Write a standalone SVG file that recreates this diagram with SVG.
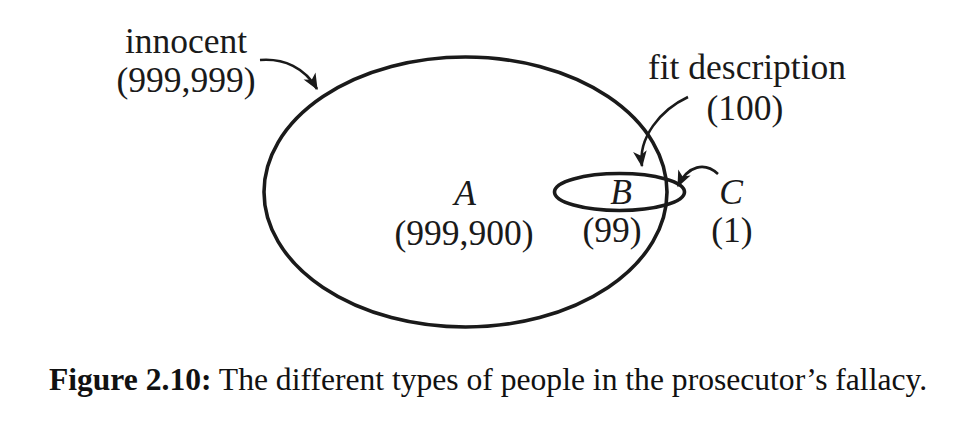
<svg xmlns="http://www.w3.org/2000/svg" width="967" height="429" viewBox="0 0 967 429">
<style>
  .lbl { font-family: "Liberation Serif", "Times New Roman", serif; font-size: 35.5px; fill: #1a1a1a; text-anchor: middle; }
  .it { font-style: italic; }
  .cap { font-family: "Liberation Serif", "Times New Roman", serif; font-size: 31.6px; fill: #111; }
  .ell { fill: none; stroke: #1a1a1a; stroke-width: 3.6; }
  .arr { fill: none; stroke: #1a1a1a; stroke-width: 2.6; marker-end: url(#ah); }
</style>
<defs>
  <marker id="ah" markerUnits="userSpaceOnUse" markerWidth="20" markerHeight="20" viewBox="-14 -8 16 16" refX="0" refY="0" orient="auto">
    <path d="M 1 0 L -12 -5.5 L -8.5 0 L -12 5.5 Z" fill="#1a1a1a"/>
  </marker>
</defs>
<rect width="967" height="429" fill="#fff"/>
<g id="innocent-set">
  <ellipse class="ell" cx="465.5" cy="192" rx="201.5" ry="135"/>
</g>
<g id="fit-set">
  <ellipse class="ell" cx="619.5" cy="192" rx="65" ry="18.5"/>
</g>
<g id="connectors">
  <path class="arr" d="M 260 60 C 284 58, 305 68, 317 89"/>
  <path class="arr" d="M 688 97 C 660 110, 638 138, 642 166"/>
  <path class="arr" d="M 718 174 C 705 162, 688 165, 678 186"/>
</g>
<g id="label-innocent">
  <text class="lbl" x="186" y="53">innocent</text>
  <text class="lbl" x="186" y="92">(999,999)</text>
</g>
<g id="label-fit">
  <text class="lbl" x="747" y="79">fit description</text>
  <text class="lbl" x="745" y="120">(100)</text>
</g>
<g id="label-A">
  <text class="lbl it" x="465" y="205">A</text>
  <text class="lbl" x="464" y="245">(999,900)</text>
</g>
<g id="label-B">
  <text class="lbl it" x="621" y="204">B</text>
  <text class="lbl" x="612" y="242">(99)</text>
</g>
<g id="label-C">
  <text class="lbl it" x="731" y="204">C</text>
  <text class="lbl" x="732" y="242">(1)</text>
</g>
<g id="caption">
  <text class="cap" x="488" y="390" text-anchor="middle"><tspan font-weight="bold">Figure 2.10:</tspan> The different types of people in the prosecutor’s fallacy.</text>
</g>
</svg>
